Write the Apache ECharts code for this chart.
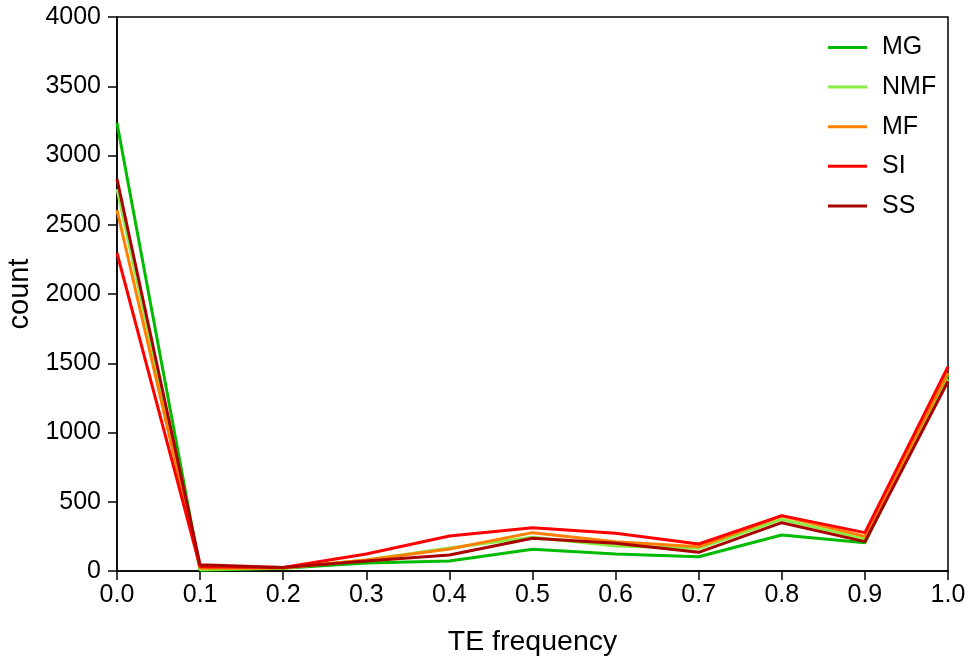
<!DOCTYPE html>
<html>
<head>
<meta charset="utf-8">
<script src="https://cdn.jsdelivr.net/npm/echarts@6/dist/echarts.min.js"></script>
<style>html,body{margin:0;padding:0;background:#fff;}#c{width:971px;height:664px;}</style>
</head>
<body>
<div id="c"></div>
<script>
var teFrequency = [0.0, 0.1, 0.2, 0.3, 0.4, 0.5, 0.6, 0.7, 0.8, 0.9, 1.0];
var MG  = [3235, 5, 20, 58, 72, 157, 123, 103, 260, 204, 1415];
var NMF = [2758, 10, 22, 80, 166, 243, 180, 164, 373, 230, 1384];
var MF  = [2606, 20, 22, 80, 159, 277, 212, 175, 397, 250, 1430];
var SI  = [2296, 30, 25, 123, 253, 313, 272, 195, 400, 277, 1475];
var SS  = [2830, 45, 25, 72, 115, 236, 200, 135, 349, 212, 1370];
var seriesNames = ['MG', 'NMF', 'MF', 'SI', 'SS'];
var seriesValues = [MG, NMF, MF, SI, SS];
var colors = ['#00bb00', '#88ee44', '#ff8000', '#ff0000', '#aa0000'];
var font = 'Liberation Sans, Arial, sans-serif';

var chart = echarts.init(document.getElementById('c'), null, {renderer: 'canvas'});
chart.setOption({
  animation: false,
  backgroundColor: '#fff',
  grid: {left: 117, right: 23, top: 17, bottom: 93, show: true, borderColor: '#000', borderWidth: 1.5, backgroundColor: 'transparent', containLabel: false, outerBoundsMode: 'none'},
  legend: {
    orient: 'vertical', left: 823, top: 30,
    itemWidth: 39, itemHeight: 3, itemGap: 14.6,
    icon: 'rect',
    data: seriesNames.map(function (n, i) { return {name: n, icon: 'rect', itemStyle: {color: colors[i]}}; }),
    textStyle: {fontFamily: font, fontSize: 25, color: '#000', padding: [0, 0, 0, 10]}
  },
  xAxis: {
    type: 'value', min: 0, max: 1, interval: 0.1,
    name: 'TE frequency', nameLocation: 'middle', nameGap: 57,
    nameTextStyle: {fontFamily: font, fontSize: 28.5, color: '#000'},
    axisLine: {show: true, lineStyle: {color: '#000', width: 1.5}},
    axisTick: {show: true, inside: false, length: 9, lineStyle: {color: '#000', width: 1.5}},
    axisLabel: {fontFamily: font, fontSize: 25, color: '#000', margin: 12, formatter: function (v) { return v.toFixed(1); }},
    splitLine: {show: false}
  },
  yAxis: {
    type: 'value', min: 0, max: 4000, interval: 500,
    name: 'count', nameLocation: 'middle', nameGap: 80,
    nameTextStyle: {fontFamily: font, fontSize: 29, color: '#000'},
    axisLine: {show: true, lineStyle: {color: '#000', width: 1.5}},
    axisTick: {show: true, inside: false, length: 9, lineStyle: {color: '#000', width: 1.5}},
    axisLabel: {fontFamily: font, fontSize: 25, color: '#000', margin: 16, formatter: function (v) { return String(v); }},
    splitLine: {show: false}
  },
  series: seriesNames.map(function (n, i) {
    return {
      name: n, type: 'line', symbol: 'none', showSymbol: false,
      color: colors[i],
      lineStyle: {color: colors[i], width: 3},
      data: teFrequency.map(function (x, j) { return [x, seriesValues[i][j]]; })
    };
  })
});
</script>
</body>
</html>
